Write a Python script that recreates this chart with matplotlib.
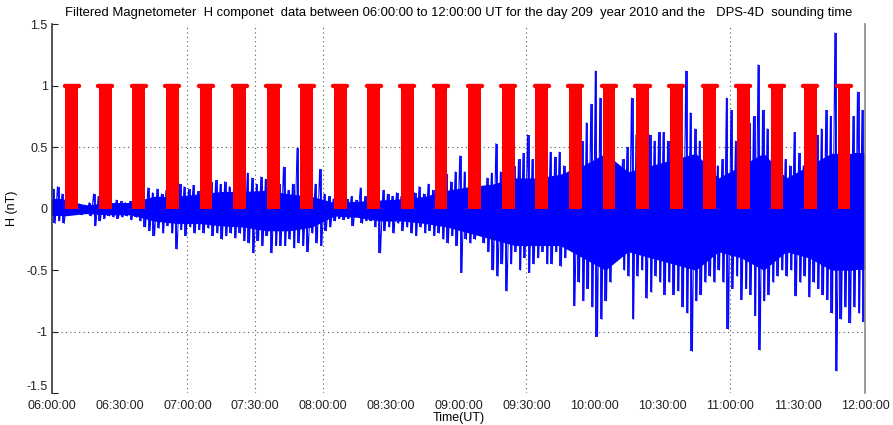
import numpy as np
import matplotlib
matplotlib.use("Agg")
import matplotlib.pyplot as plt

plt.rcParams['font.family'] = ['Liberation Sans', 'DejaVu Sans']

# filtered H component, spike extremes read per 2-minute bin (minutes after 06:00 UT)
bin_minutes = 2
h_high = [0.16, 0.18, 0.12, 0.05, 0.04, 0.03, 0.02, 0.03, 0.05, 0.12,
          0.10, 0.06, 0.05, 0.04, 0.07, 0.06, 0.05, 0.06, 0.08, 0.10,
          0.15, 0.17, 0.13, 0.16, 0.12, 0.15, 0.12, 0.14, 0.20, 0.18,
          0.16, 0.19, 0.14, 0.18, 0.20, 0.22, 0.23, 0.20, 0.22, 0.18,
          0.20, 0.24, 0.22, 0.29, 0.25, 0.20, 0.26, 0.24, 0.34, 0.25,
          0.20, 0.34, 0.15, 0.20, 0.49, 0.25, 0.15, 0.12, 0.20, 0.32,
          0.12, 0.10, 0.08, 0.08, 0.07, 0.08, 0.10, 0.07, 0.17, 0.10,
          0.10, 0.12, 0.46, 0.15, 0.12, 0.10, 0.13, 0.10, 0.12, 0.15,
          0.13, 0.18, 0.12, 0.20, 0.15, 0.15, 0.20, 0.28, 0.22, 0.30,
          0.43, 0.30, 0.25, 0.22, 0.20, 0.18, 0.25, 0.29, 0.53, 0.30,
          0.30, 0.25, 0.35, 0.40, 0.45, 0.60, 0.40, 0.35, 0.30, 0.40,
          0.46, 0.42, 0.46, 0.35, 0.30, 0.30, 0.35, 0.55, 0.70, 0.85,
          1.12, 0.90, 0.80, 0.50, 0.35, 0.35, 0.40, 0.50, 0.90, 0.60,
          0.45, 0.50, 0.60, 0.55, 0.62, 0.62, 0.55, 0.60, 0.80, 0.70,
          1.12, 0.78, 0.65, 0.55, 0.50, 0.45, 0.40, 0.35, 0.40, 0.90,
          0.80, 0.55, 0.50, 0.55, 0.70, 0.75, 1.17, 0.80, 0.65, 0.50,
          0.45, 0.40, 0.40, 0.35, 0.62, 0.45, 0.35, 0.50, 0.55, 0.60,
          0.65, 0.80, 0.75, 1.43, 0.90, 0.70, 0.65, 0.75, 0.95, 0.80]
h_low = [-0.12, -0.10, -0.12, -0.04, -0.03, -0.03, -0.05, -0.04, -0.06, -0.14,
         -0.10, -0.08, -0.06, -0.07, -0.08, -0.07, -0.06, -0.09, -0.07, -0.10,
         -0.15, -0.18, -0.22, -0.16, -0.20, -0.14, -0.20, -0.33, -0.17, -0.22,
         -0.15, -0.20, -0.17, -0.20, -0.16, -0.22, -0.20, -0.25, -0.22, -0.20,
         -0.24, -0.20, -0.26, -0.28, -0.36, -0.26, -0.30, -0.22, -0.36, -0.30,
         -0.30, -0.30, -0.25, -0.32, -0.28, -0.30, -0.35, -0.20, -0.28, -0.30,
         -0.18, -0.15, -0.10, -0.08, -0.09, -0.08, -0.14, -0.06, -0.12, -0.10,
         -0.10, -0.15, -0.36, -0.18, -0.15, -0.20, -0.12, -0.18, -0.15, -0.20,
         -0.22, -0.15, -0.20, -0.18, -0.22, -0.20, -0.25, -0.28, -0.22, -0.30,
         -0.52, -0.25, -0.28, -0.25, -0.20, -0.28, -0.35, -0.50, -0.55, -0.45,
         -0.67, -0.45, -0.35, -0.50, -0.40, -0.52, -0.45, -0.40, -0.35, -0.45,
         -0.45, -0.35, -0.47, -0.40, -0.30, -0.79, -0.60, -0.75, -0.65, -0.80,
         -1.04, -0.90, -0.75, -0.60, -0.40, -0.40, -0.50, -0.55, -0.90, -0.55,
         -0.50, -0.73, -0.68, -0.55, -0.60, -0.70, -0.60, -0.70, -0.67, -0.80,
         -0.85, -1.16, -0.75, -0.70, -0.60, -0.55, -0.60, -0.50, -0.60, -0.98,
         -0.65, -0.55, -0.74, -0.65, -0.70, -0.87, -1.15, -0.75, -0.70, -0.60,
         -0.55, -0.50, -0.55, -0.50, -0.71, -0.60, -0.55, -0.72, -0.60, -0.65,
         -0.70, -0.74, -0.85, -1.32, -0.90, -0.80, -0.93, -0.80, -0.85, -0.92]

# solid body of the trace, read per 10-minute block
core_minutes = 10
core_high = [0.08, 0.03, 0.05, 0.05, 0.10, 0.10, 0.12, 0.14, 0.14, 0.15,
             0.12, 0.10, 0.05, 0.06, 0.07, 0.08, 0.10, 0.15, 0.18, 0.20,
             0.25, 0.25, 0.28, 0.35, 0.45, 0.30, 0.35, 0.40, 0.45, 0.25,
             0.35, 0.45, 0.25, 0.35, 0.45, 0.45]
core_low = [-0.06, -0.04, -0.05, -0.05, -0.10, -0.12, -0.12, -0.14, -0.15, -0.18,
            -0.18, -0.15, -0.06, -0.07, -0.10, -0.10, -0.12, -0.15, -0.20, -0.25,
            -0.30, -0.30, -0.30, -0.40, -0.50, -0.35, -0.40, -0.45, -0.50, -0.35,
            -0.40, -0.50, -0.35, -0.40, -0.50, -0.50]

# DPS-4D sounding windows (minutes after 06:00 UT), level 1 = sounding on
sound_start = [6.0, 20.9, 35.7, 50.6, 65.4, 80.3, 95.2, 110.0, 124.9, 139.7,
               154.6, 169.5, 184.3, 199.2, 214.0, 228.9, 243.8, 258.6, 273.5,
               288.3, 303.2, 318.1, 332.9, 347.8]
sound_end = [11.6, 26.5, 41.3, 56.2, 71.0, 85.9, 100.8, 115.6, 130.5, 145.3,
             160.2, 175.1, 189.9, 204.8, 219.6, 234.5, 249.4, 264.2, 279.1,
             293.9, 308.8, 323.7, 338.5, 353.4]
sound_level = 1.0

xtick_min = [0, 30, 60, 90, 120, 150, 180, 210, 240, 270, 300, 330, 360]
xtick_lab = ['06:00:00', '06:30:00', '07:00:00', '07:30:00', '08:00:00',
             '08:30:00', '09:00:00', '09:30:00', '10:00:00', '10:30:00',
             '11:00:00', '11:30:00', '12:00:00']
ytick_val = [1.5, 1, 0.5, 0, -0.5, -1, -1.5]
ytick_lab = ['1.5', '1', '0.5', '0', '-0.5', '-1', '-1.5']
vgrid_min = [60, 90, 120, 210, 300]
hgrid_val = [0.5, -1]

fig = plt.figure(figsize=(8.93, 4.25), dpi=100)
ax = fig.add_axes([0.058, 0.075, 0.911, 0.868])

blue = '#0000ff'
cc = np.arange(len(core_high)) * core_minutes + core_minutes / 2
ax.fill_between(cc, core_low, core_high, color=blue, lw=0, zorder=2)
ax.fill_between([0, cc[0]], core_low[0], core_high[0], color=blue, lw=0, zorder=2)
ax.fill_between([cc[-1], 360], core_low[-1], core_high[-1], color=blue, lw=0, zorder=2)

tc = np.arange(len(h_high)) * bin_minutes + bin_minutes / 2
ax.vlines(tc, h_low, h_high, color=blue, lw=1.3, zorder=2)
tx = np.column_stack([tc - 0.5, tc + 0.5]).ravel()
hy = np.column_stack([h_high, h_low]).ravel()
ax.plot(tx, hy, color=blue, lw=0.7, zorder=2)

for s, e in zip(sound_start, sound_end):
    ax.fill_between([s, e], 0, sound_level, color='#ff0000', lw=0, zorder=3)
    ax.plot([s - 0.3, e + 0.3], [sound_level, sound_level], color='#ff0000',
            lw=3.2, solid_capstyle='round', zorder=3)

for v in vgrid_min:
    ax.axvline(v, color='#555555', ls=(0, (1, 3)), lw=0.8, zorder=1)
for v in hgrid_val:
    ax.axhline(v, color='#555555', ls=(0, (1, 3)), lw=0.8, zorder=1)

ax.set_xlim(0, 360)
ax.set_ylim(-1.5, 1.5)
ax.set_xticks(xtick_min)
ax.set_xticklabels(xtick_lab)
ax.set_yticks(ytick_val)
ax.set_yticklabels(ytick_lab)
ax.tick_params(direction='in', labelsize=9, colors='#222222', pad=3)
ax.tick_params(axis='x', length=0, pad=5)
ax.tick_params(axis='y', length=4)
ax.get_yticklabels()[-1].set_va('bottom')

ax.spines['top'].set_visible(False)
ax.spines['bottom'].set_visible(False)
ax.spines['left'].set_color('#333333')
ax.spines['right'].set_color('#888888')
ax.spines['left'].set_linewidth(1.2)
ax.spines['right'].set_linewidth(1.2)

ax.set_xlabel('Time(UT)', fontsize=9, labelpad=0)
ax.set_ylabel('H (nT)', fontsize=9, labelpad=6)
ax.set_title('Filtered Magnetometer  H componet  data between 06:00:00 to 12:00:00 UT '
             'for the day 209  year 2010 and the   DPS-4D  sounding time',
             fontsize=9.4, pad=6)

fig.savefig('out.png', dpi=100)
